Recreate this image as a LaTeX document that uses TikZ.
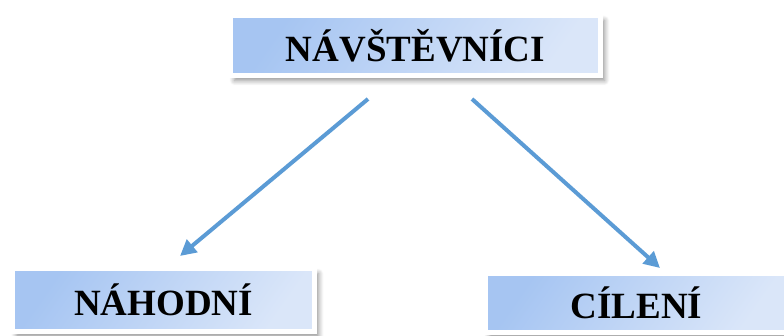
\documentclass[tikz,border=0pt]{standalone}
\usepackage{fontspec}
\setmainfont{Liberation Serif}
\usetikzlibrary{arrows.meta,shadows.blur}
\definecolor{boxdark}{RGB}{166,197,242}
\definecolor{boxlight}{RGB}{218,230,249}
\definecolor{linkblue}{RGB}{91,155,213}
\tikzset{
  catbox/.style={
    draw=white, line width=5pt,
    top color=boxdark, bottom color=boxlight,
    shading angle=55,
    blur shadow={shadow xshift=4pt, shadow yshift=-5pt, shadow blur radius=5pt,
      shadow blur steps=8, shadow opacity=45},
    font=\fontsize{37}{40}\selectfont\bfseries,
    inner sep=0pt, align=center
  },
  link/.style={draw=linkblue, line width=4pt,
    -{Triangle[length=16pt,width=16pt]}}
}
\begin{document}
\begin{tikzpicture}[x=1pt,y=-1pt]
  \useasboundingbox (0,0) rectangle (784,336);
  \node[catbox, minimum width=370pt, minimum height=60pt] (top) at (415.5,45.5) {NÁVŠTĚVNÍCI};
  \node[catbox, minimum width=302pt, minimum height=63pt] (left) at (163.5,300) {NÁHODNÍ};
  \node[catbox, minimum width=302pt, minimum height=59pt] (right) at (636.5,303) {CÍLENÍ};
  \coordinate (a1) at (368,99);
  \coordinate (a2) at (180,256);
  \coordinate (b1) at (472,99);
  \coordinate (b2) at (660,268);
  \draw[link] (a1) -- (a2);
  \draw[link] (b1) -- (b2);
\end{tikzpicture}
\end{document}
